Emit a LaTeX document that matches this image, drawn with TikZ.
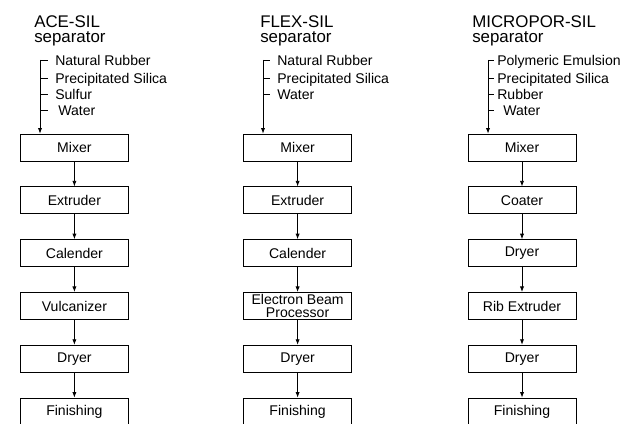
\documentclass[tikz,border=0pt]{standalone}
\usepackage{fontspec}
\setmainfont{Liberation Sans}
\usepackage{tikz}
\usetikzlibrary{arrows.meta,positioning}

\begin{document}
\begin{tikzpicture}[
  every node/.style={font=\fontsize{10}{9.5}\selectfont},
  box/.style={draw, rectangle, line width=0.6pt,
              minimum width=2.7cm, minimum height=0.675cm,
              inner sep=0.5pt, align=center},
  ttl/.style={anchor=north west, inner sep=0pt, align=left,
              font=\fontsize{12}{11}\selectfont},
  ing/.style={anchor=base west, inner sep=0pt,
              font=\fontsize{10}{11}\selectfont},
  flow/.style={line width=0.6pt, -{Latex[length=4pt,width=3pt]}},
  tick/.style={line width=0.6pt}
]
\useasboundingbox (0,0) rectangle (16,10.6);
\clip (0,0) rectangle (16,10.6);

%% ACE-SIL column
\node[ttl] (at) at (0.85,10.225) {ACE-SIL\\separator};
\coordinate (atop) at (1.0,9.1);
\node[ing] (ai1) at (1.375,8.96) {Natural Rubber};
\node[ing] (ai2) at (1.375,8.51) {Precipitated Silica};
\node[ing] (ai3) at (1.375,8.11) {Sulfur};
\node[ing] (ai4) at (1.45,7.71)  {Water};
\foreach \y in {9.1,8.65,8.25,7.85} \draw[tick] (1.0,\y) -- ++(0.2,0);
\node[box] (amix) at (1.86,6.91) {Mixer};
\node[box] (aext) at (1.86,5.59) {Extruder};
\node[box] (acal) at (1.86,4.27) {Calender};
\node[box] (avul) at (1.86,2.95) {Vulcanizer};
\node[box] (adry) at (1.86,1.63) {Dryer};
\node[box] (afin) at (1.86,0.31) {Finishing};
\draw[flow] (atop) -- (atop |- amix.north);
\draw[flow] (amix)--(aext); \draw[flow] (aext)--(acal);
\draw[flow] (acal)--(avul); \draw[flow] (avul)--(adry);
\draw[flow] (adry)--(afin);

%% FLEX-SIL column
\node[ttl] (ft) at (6.5,10.225) {FLEX-SIL\\separator};
\coordinate (ftop) at (6.575,9.1);
\node[ing] (fi1) at (6.925,8.96) {Natural Rubber};
\node[ing] (fi2) at (6.925,8.51) {Precipitated Silica};
\node[ing] (fi3) at (6.925,8.11) {Water};
\foreach \y in {9.1,8.65,8.25} \draw[tick] (6.575,\y) -- ++(0.175,0);
\node[box] (fmix) at (7.44,6.91) {Mixer};
\node[box] (fext) at (7.44,5.59) {Extruder};
\node[box] (fcal) at (7.44,4.27) {Calender};
\node[box] (febp) at (7.44,2.95) {Electron Beam\\Processor};
\node[box] (fdry) at (7.44,1.63) {Dryer};
\node[box] (ffin) at (7.44,0.31) {Finishing};
\draw[flow] (ftop) -- (ftop |- fmix.north);
\draw[flow] (fmix)--(fext); \draw[flow] (fext)--(fcal);
\draw[flow] (fcal)--(febp); \draw[flow] (febp)--(fdry);
\draw[flow] (fdry)--(ffin);

%% MICROPOR-SIL column
\node[ttl] (mt) at (11.8,10.225) {MICROPOR-SIL\\separator};
\coordinate (mtop) at (12.2,9.1);
\node[ing] (mi1) at (12.425,8.96) {Polymeric Emulsion};
\node[ing] (mi2) at (12.425,8.51) {Precipitated Silica};
\node[ing] (mi3) at (12.425,8.11) {Rubber};
\node[ing] (mi4) at (12.575,7.71) {Water};
\foreach \y in {9.1,8.65,8.25,7.85} \draw[tick] (12.2,\y) -- ++(0.15,0);
\node[box] (mmix) at (13.05,6.91) {Mixer};
\node[box] (mcoa) at (13.05,5.59) {Coater};
\node[box] (mdr1) at (13.05,4.27) {Dryer};
\node[box] (mrib) at (13.05,2.95) {Rib Extruder};
\node[box] (mdr2) at (13.05,1.63) {Dryer};
\node[box] (mfin) at (13.05,0.31) {Finishing};
\draw[flow] (mtop) -- (mtop |- mmix.north);
\draw[flow] (mmix)--(mcoa); \draw[flow] (mcoa)--(mdr1);
\draw[flow] (mdr1)--(mrib); \draw[flow] (mrib)--(mdr2);
\draw[flow] (mdr2)--(mfin);
\end{tikzpicture}
\end{document}
